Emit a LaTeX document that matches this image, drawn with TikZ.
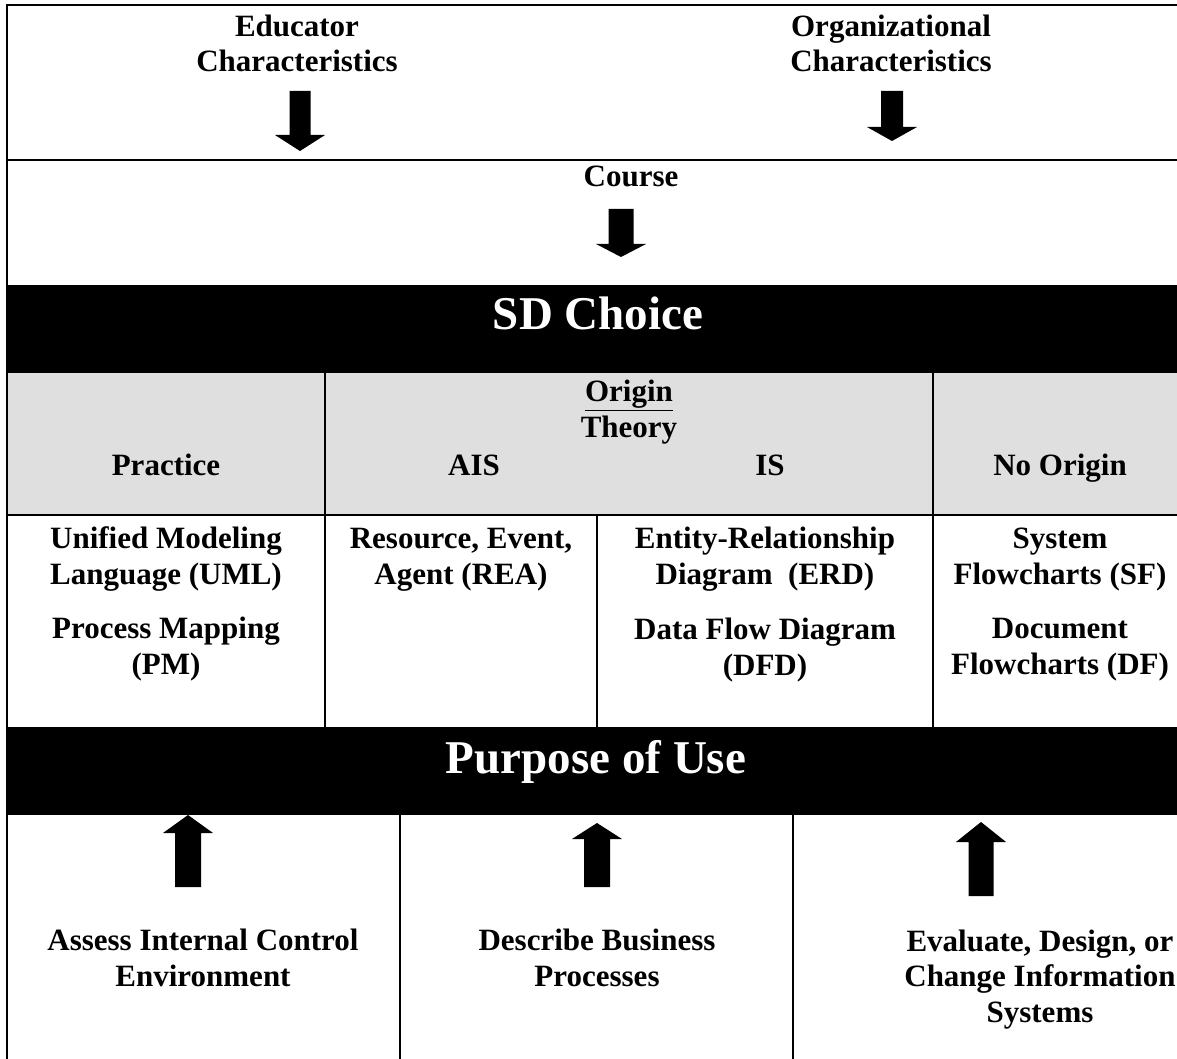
\documentclass[tikz,border=0pt]{standalone}
\usepackage{fontspec}
\setmainfont{Liberation Serif}
\begin{document}
\begin{tikzpicture}[x=1pt,y=-1pt,
  rule/.style={line width=2.2pt},
  % multi-line labels are placed by the baseline of their last line
  lbl/.style={font=\fontsize{31}{35.5}\selectfont\bfseries, align=center, inner sep=0pt, anchor=base},
  banner/.style={font=\fontsize{47}{52}\selectfont\bfseries, text=white, inner sep=0pt, anchor=base},
  pics/downblock/.style n args={3}{code={
    \fill (-#3/2,-#2) -- (#3/2,-#2) -- (#3/2,-#1) -- (25,-#1) -- (0,0)
          -- (-25,-#1) -- (-#3/2,-#1) -- cycle;}},
  pics/upblock/.style n args={3}{code={
    \fill (-#3/2,#2) -- (#3/2,#2) -- (#3/2,#1) -- (25,#1) -- (0,0)
          -- (-25,#1) -- (-#3/2,#1) -- cycle;}},
]
\useasboundingbox (0,0) rectangle (1177,1059);
\definecolor{headgray}{RGB}{223,223,223}

% filled bands
\fill[headgray] (7,373) rectangle (1177,515);
\fill[black] (7,285) rectangle (1177,373);
\fill[black] (7,727) rectangle (1177,815);

% table rules
\draw[rule] (7,1059) -- (7,5) -- (1177,5);
\draw[rule] (7,160) -- (1177,160);
\draw[rule] (7,515) -- (1177,515);
\draw[rule] (325,373) -- (325,727);
\draw[rule] (933,373) -- (933,727);
\draw[rule] (597,515) -- (597,727);
\draw[rule] (400,815) -- (400,1059);
\draw[rule] (793,815) -- (793,1059);

% influences at the top
\node[lbl] (educator) at (297,72) {Educator\\Characteristics};
\node[lbl] (organization) at (891,72) {Organizational\\Characteristics};
\pic at (300,151) {downblock={16}{60}{21}};
\pic at (892,141) {downblock={14}{50}{22}};

\node[lbl] (course) at (631,187) {Course};
\pic at (621,257) {downblock={13}{48}{25}};

% SD choice banner
\node[banner] (sdchoice) at (598,329) {SD Choice};

% origin header row
\node[lbl] (origin) at (629,437) {\underline{Origin}\\Theory};
\node[lbl] (practice) at (166,475) {Practice};
\node[lbl] (ais) at (474,475) {AIS};
\node[lbl] (is) at (770,475) {IS};
\node[lbl] (noorigin) at (1060,475) {No Origin};

% diagram techniques
\node[lbl] (uml) at (166,584) {Unified Modeling\\Language (UML)};
\node[lbl] (pm) at (166,674) {Process Mapping\\(PM)};
\node[lbl] (rea) at (461,584) {Resource, Event,\\Agent (REA)};
\node[lbl] (erd) at (765,584) {Entity-Relationship\\Diagram\ \ (ERD)};
\node[lbl] (dfd) at (765,675) {Data Flow Diagram\\(DFD)};
\node[lbl] (sf) at (1060,584) {System\\Flowcharts (SF)};
\node[lbl] (df) at (1060,674) {Document\\Flowcharts (DF)};

% purpose banner
\node[banner] (purpose) at (596,773) {Purpose of Use};

% purposes at the bottom
\pic at (188,815) {upblock={18}{72}{26}};
\pic at (597,823) {upblock={16}{64}{26}};
\pic at (981,822) {upblock={20}{74}{25}};
\node[lbl] (assess) at (203,986) {Assess Internal Control\\Environment};
\node[lbl] (describe) at (597,986) {Describe Business\\Processes};
\node[lbl] (evaluate) at (1040,1022) {Evaluate, Design, or\\Change Information\\Systems};
\end{tikzpicture}
\end{document}
